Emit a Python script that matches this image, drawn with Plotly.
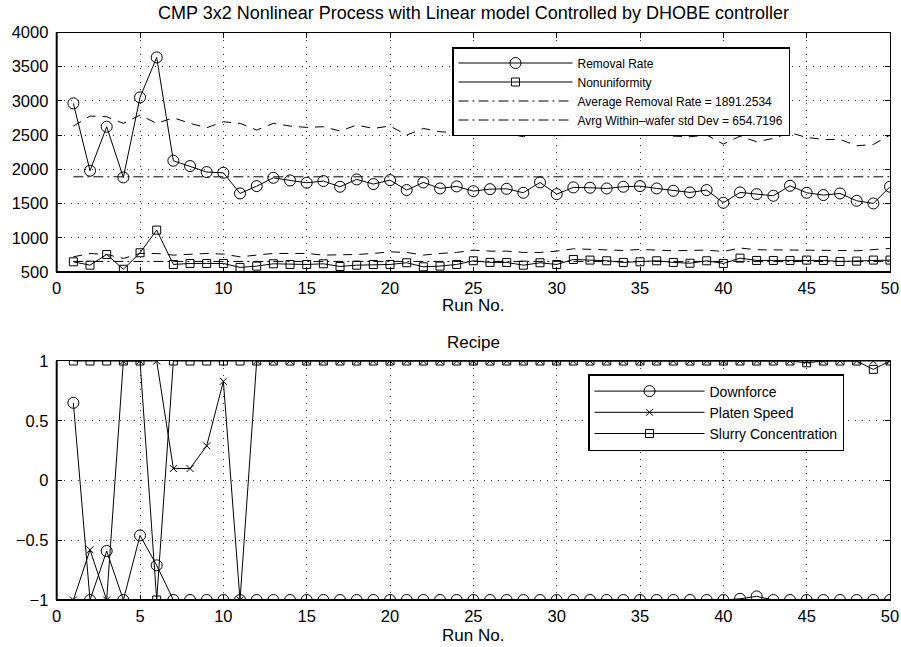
import plotly.graph_objects as go

# ---------------- data ----------------
runs = [1, 2, 3, 4, 5, 6, 7, 8, 9, 10, 11, 12, 13, 14, 15, 16, 17, 18, 19, 20,
        21, 22, 23, 24, 25, 26, 27, 28, 29, 30, 31, 32, 33, 34, 35, 36, 37, 38, 39, 40,
        41, 42, 43, 44, 45, 46, 47, 48, 49, 50]

removal_rate = [2964, 1980, 2623, 1882, 3052, 3636, 2126, 2048, 1960, 1950,
                1648, 1755, 1877, 1838, 1804, 1829, 1746, 1853, 1785, 1843,
                1697, 1809, 1721, 1751, 1682, 1711, 1716, 1658, 1809, 1638,
                1736, 1731, 1721, 1746, 1755, 1721, 1687, 1663, 1697, 1512,
                1663, 1638, 1614, 1760, 1658, 1624, 1648, 1541, 1502, 1746]

nonuniformity = [649, 600, 756, 540, 781, 1112, 610, 625, 625, 625,
                 567, 586, 620, 610, 610, 620, 581, 600, 610, 610,
                 635, 576, 586, 610, 664, 640, 640, 600, 635, 610,
                 683, 674, 664, 640, 649, 664, 640, 628, 664, 625,
                 703, 669, 669, 669, 674, 669, 654, 659, 674, 674]

upper_dashed = [2633, 2779, 2769, 2672, 2793, 2672, 2754, 2672, 2608, 2696,
                2672, 2574, 2672, 2633, 2613, 2623, 2560, 2647, 2598, 2633,
                2501, 2598, 2550, 2535, 2496, 2501, 2525, 2477, 2574, 2477,
                2525, 2535, 2525, 2535, 2564, 2535, 2486, 2477, 2501, 2369,
                2486, 2403, 2452, 2535, 2467, 2437, 2437, 2345, 2364, 2501]

lower_dashed = [722, 771, 756, 698, 771, 771, 747, 756, 771, 761,
                722, 747, 771, 771, 771, 747, 747, 756, 771, 795,
                786, 747, 771, 786, 820, 805, 805, 786, 786, 805,
                839, 830, 820, 815, 830, 820, 810, 815, 820, 800,
                850, 825, 825, 825, 815, 820, 815, 810, 830, 845]

avg_removal_rate = 1891.2534
avg_std_dev = 654.7196

downforce = [0.65, -1, -0.59, -1, -0.46, -0.71, -1, -1, -1, -1,
             -1, -1, -1, -1, -1, -1, -1, -1, -1, -1,
             -1, -1, -1, -1, -1, -1, -1, -1, -1, -1,
             -1, -1, -1, -1, -1, -1, -1, -1, -1, -1,
             -0.99, -0.97, -1, -1, -1, -1, -1, -1, -1, -1]

platen_speed = [-1, -0.58, -1, 1, 1, 1, 0.1, 0.1, 0.29, 0.83,
                -1, 1, 1, 1, 1, 1, 1, 1, 1, 1,
                1, 1, 1, 1, 1, 1, 1, 1, 1, 1,
                1, 1, 1, 1, 1, 1, 1, 1, 1, 1,
                1, 1, 1, 1, 1, 1, 1, 1, 1, 1]

slurry_conc = [1, 1, 1, 1, 1, -1, 1, 1, 1, 1,
               1, 1, 1, 1, 1, 1, 1, 1, 1, 1,
               1, 1, 1, 1, 1, 1, 1, 1, 1, 1,
               1, 1, 1, 1, 1, 1, 1, 1, 1, 1,
               1, 1, 1, 1, 0.985, 1, 1, 1, 0.93, 1]

x_ticks = [0, 5, 10, 15, 20, 25, 30, 35, 40, 45, 50]
top_y_ticks = [500, 1000, 1500, 2000, 2500, 3000, 3500, 4000]
bot_y_ticks = [-1, -0.5, 0, 0.5, 1]
bot_y_labels = ["\u22121", "\u22120.5", "0", "0.5", "1"]

title_top = "CMP 3x2 Nonlinear Process with Linear model Controlled by DHOBE controller"
title_bot = "Recipe"
xlabel = "Run No."

# ---------------- figure ----------------
FONT = "Liberation Sans, Arial, Helvetica, sans-serif"
BLK = "black"

fig = go.Figure()

avg_rr_line = [avg_removal_rate for _ in runs]
avg_sd_line = [avg_std_dev for _ in runs]

fig.add_trace(go.Scatter(x=runs, y=removal_rate, mode="lines+markers", name="Removal Rate",
                         line=dict(color=BLK, width=1),
                         marker=dict(symbol="circle-open", size=11, color=BLK, line=dict(width=1)),
                         xaxis="x", yaxis="y", legend="legend"))
fig.add_trace(go.Scatter(x=runs, y=nonuniformity, mode="lines+markers", name="Nonuniformity",
                         line=dict(color=BLK, width=1),
                         marker=dict(symbol="square-open", size=8, color=BLK, line=dict(width=1)),
                         xaxis="x", yaxis="y", legend="legend"))
fig.add_trace(go.Scatter(x=runs, y=avg_rr_line, mode="lines",
                         name="Average Removal Rate = 1891.2534",
                         line=dict(color=BLK, width=1, dash="10px,4px,2px,4px"),
                         xaxis="x", yaxis="y", legend="legend"))
fig.add_trace(go.Scatter(x=runs, y=avg_sd_line, mode="lines",
                         name="Avrg Within\u2013wafer std Dev = 654.7196",
                         line=dict(color=BLK, width=1, dash="10px,4px,2px,4px"),
                         xaxis="x", yaxis="y", legend="legend"))
fig.add_trace(go.Scatter(x=runs, y=upper_dashed, mode="lines", showlegend=False,
                         line=dict(color=BLK, width=1, dash="9px,7px"),
                         xaxis="x", yaxis="y"))
fig.add_trace(go.Scatter(x=runs, y=lower_dashed, mode="lines", showlegend=False,
                         line=dict(color=BLK, width=1, dash="9px,7px"),
                         xaxis="x", yaxis="y"))

fig.add_trace(go.Scatter(x=runs, y=downforce, mode="lines+markers", name="Downforce",
                         line=dict(color=BLK, width=1),
                         marker=dict(symbol="circle-open", size=11, color=BLK, line=dict(width=1)),
                         xaxis="x2", yaxis="y2", legend="legend2"))
fig.add_trace(go.Scatter(x=runs, y=platen_speed, mode="lines+markers", name="Platen Speed",
                         line=dict(color=BLK, width=1),
                         marker=dict(symbol="x-thin-open", size=7, color=BLK, line=dict(width=1, color=BLK)),
                         xaxis="x2", yaxis="y2", legend="legend2"))
fig.add_trace(go.Scatter(x=runs, y=slurry_conc, mode="lines+markers", name="Slurry Concentration",
                         line=dict(color=BLK, width=1),
                         marker=dict(symbol="square-open", size=8, color=BLK, line=dict(width=1)),
                         xaxis="x2", yaxis="y2", legend="legend2"))

W, H = 901, 647
xl, xr = 56.7, 890.0
top_t, top_b = 32.5, 272.0
bot_t, bot_b = 361.0, 600.0

def px_x(p):
    return p / W

def px_y(p):
    return (H - p) / H

common_x = dict(range=[0, 50], tickvals=x_ticks, showgrid=True, gridcolor="#333",
                griddash="1px,6px", gridwidth=1, ticks="inside", ticklen=5,
                tickcolor=BLK, showline=True, linecolor=BLK, linewidth=1, mirror="ticks",
                zeroline=False, tickfont=dict(family=FONT, size=16.5, color=BLK),
                automargin=False, domain=[px_x(xl), px_x(xr)], fixedrange=True,
                ticklabelstandoff=1)
common_y = dict(showgrid=True, gridcolor="#333", griddash="1px,6px", gridwidth=1,
                ticks="inside", ticklen=5, tickcolor=BLK, showline=True, linecolor=BLK,
                linewidth=1, mirror="ticks", zeroline=False,
                tickfont=dict(family=FONT, size=16.5, color=BLK), automargin=False,
                ticklabelstandoff=4, fixedrange=True)

fig.update_layout(
    width=W, height=H,
    margin=dict(l=0, r=0, t=0, b=0),
    paper_bgcolor="white", plot_bgcolor="white",
    font=dict(family=FONT, color=BLK),
    xaxis=dict(**common_x, anchor="y"),
    yaxis=dict(**common_y, range=[500, 4000], tickvals=top_y_ticks, anchor="x",
               domain=[px_y(top_b), px_y(top_t)]),
    xaxis2=dict(**common_x, anchor="y2"),
    yaxis2=dict(**common_y, range=[-1, 1], tickvals=bot_y_ticks, ticktext=bot_y_labels,
                anchor="x2", domain=[px_y(bot_b), px_y(bot_t)]),
    legend=dict(x=px_x(452), y=px_y(47), xanchor="left", yanchor="top",
                bordercolor=BLK, borderwidth=1.5, bgcolor="white",
                font=dict(family=FONT, size=12, color=BLK), tracegroupgap=0,
                itemwidth=114),
    legend2=dict(x=px_x(588), y=px_y(374), xanchor="left", yanchor="top",
                 bordercolor=BLK, borderwidth=1.5, bgcolor="white",
                 font=dict(family=FONT, size=14, color=BLK), tracegroupgap=0,
                 itemwidth=110),
    showlegend=True,
)

# heavier left / bottom axis lines (MATLAB style frame)
for xr_, yr_ in (("x domain", "y domain"), ("x2 domain", "y2 domain")):
    fig.add_shape(type="line", xref=xr_, yref=yr_, x0=0, x1=0, y0=0, y1=1,
                  line=dict(color=BLK, width=2))
    fig.add_shape(type="line", xref=xr_, yref=yr_, x0=0, x1=1, y0=0, y1=0,
                  line=dict(color=BLK, width=2))

cx = px_x((xl + xr) / 2)
fig.add_annotation(text=title_top, x=cx, y=px_y(13), xref="paper", yref="paper",
                   showarrow=False, xanchor="center", yanchor="middle",
                   font=dict(family=FONT, size=18, color=BLK))
fig.add_annotation(text=xlabel, x=cx, y=px_y(305), xref="paper", yref="paper",
                   showarrow=False, xanchor="center", yanchor="middle",
                   font=dict(family=FONT, size=17, color=BLK))
fig.add_annotation(text=title_bot, x=cx, y=px_y(342), xref="paper", yref="paper",
                   showarrow=False, xanchor="center", yanchor="middle",
                   font=dict(family=FONT, size=17, color=BLK))
fig.add_annotation(text=xlabel, x=cx, y=px_y(635), xref="paper", yref="paper",
                   showarrow=False, xanchor="center", yanchor="middle",
                   font=dict(family=FONT, size=17, color=BLK))

fig.write_html("out.html")
